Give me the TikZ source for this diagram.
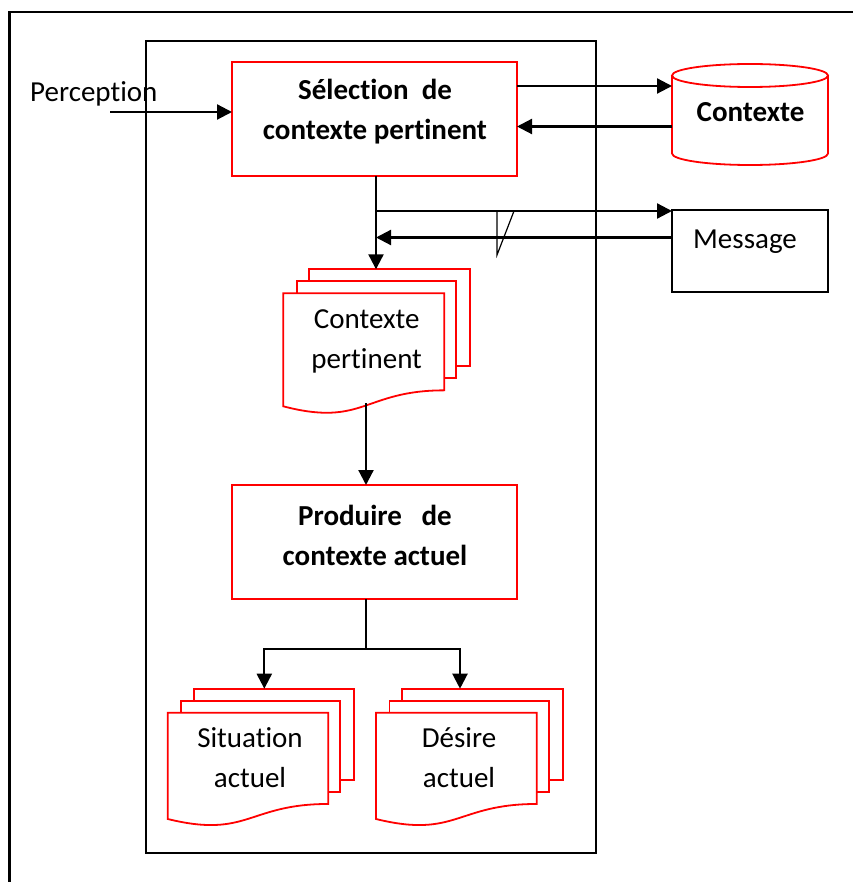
\documentclass[tikz,border=0pt]{standalone}
\usepackage{fontspec}
\setmainfont{Carlito}[Ligatures={NoCommon}]
\usetikzlibrary{arrows.meta,calc}

\tikzset{
  frameline/.style={draw=black, line width=2.2pt},
  procbox/.style={draw=red, line width=2pt, minimum width=285pt, minimum height=114pt,
    inner sep=0pt, outer sep=0pt},
  msgbox/.style={draw=black, line width=1.6pt, minimum width=156pt, minimum height=82pt,
    inner sep=0pt, outer sep=0pt},
  spot/.style={inner sep=0pt, outer sep=0pt, minimum width=#1},
  sheet/.style={draw=red, line width=1.8pt, line join=miter},
  db/.style={draw=red, line width=1.8pt},
  flow/.style={draw=black, line width=2.2pt, -{Triangle[length=15pt,width=15pt]}},
  plain/.style={draw=black, line width=2.2pt},
  tick/.style={draw=black, line width=1.2pt},
  txt/.style={font=\fontsize{29}{40}\selectfont, align=center, inner sep=0pt},
  btxt/.style={font=\fontsize{29}{40}\selectfont\bfseries, align=center, inner sep=0pt},
}

% stack of three document sheets; #1 name, #2 left, #3 top, #4 width, #5 height of the front sheet
\newcommand\docstack[5]{%
  \draw[sheet] ({#2+26},{#3-12}) -- ({#2+26},{#3-24}) -- ({#2+#4+26},{#3-24})
    -- ({#2+#4+26},{#3+0.802*#5-24}) -- ({#2+#4+12},{#3+0.802*#5-24});
  \draw[sheet] ({#2+13.5},{#3}) -- ({#2+13.5},{#3-12}) -- ({#2+#4+12},{#3-12})
    -- ({#2+#4+12},{#3+0.802*#5-12}) -- ({#2+#4},{#3+0.802*#5-12});
  \draw[sheet] (#2,#3) -- ({#2+#4},#3) -- ({#2+#4},{#3+0.802*#5})
    .. controls ({#2+0.5*#4},{#3+0.802*#5}) and ({#2+0.5*#4},{#3+1.1075*#5}) .. (#2,{#3+0.934*#5})
    -- cycle;
  \coordinate (#1) at (#2,#3);
  \coordinate (#1-top) at ({#2+26},{#3-24});
}

\begin{document}
\begin{tikzpicture}[x=1pt,y=-1pt]
\useasboundingbox (0,0) rectangle (853,882);

% page frame (left and top edges)
\draw[frameline] (9.5,882) -- (9.5,12) -- (853,12);

% agent boundary
\node[frameline, minimum width=450pt, minimum height=812pt, inner sep=0pt, outer sep=0pt,
  anchor=north west] (agent) at (146,41) {};

% process boxes
\node[procbox] (sel) at (374.5,119) {};
\node[btxt] (selt) at (375,112) {S\'election\ \ de\\contexte pertinent};

\node[procbox] (prod) at (374.5,542) {};
\node[btxt] (prodt) at (375,535) {Produire\ \ \ de\\contexte actuel};

% context store (cylinder)
\node[spot=156pt, minimum height=101pt, anchor=north west] (ctx) at (672,64) {};
\draw[db] (672,75.5) -- (672,153.5)
  .. controls (672,159.85) and (706.9,165) .. (750,165)
  .. controls (793.1,165) and (828,159.85) .. (828,153.5) -- (828,75.5);
\draw[db] (750,75.5) ellipse (78 and 11.5);
\node[btxt] (ctxt) at (750.5,112) {Contexte};

% message box
\node[msgbox, anchor=north west] (msg) at (672,210) {};
\node[txt, anchor=base] (msgt) at (745,249) {Message};

% document stacks
\docstack{cp}{283.3}{293.3}{161}{121}
\node[txt] (cpt) at (366.7,341) {Contexte\\pertinent};

\docstack{sit}{167.7}{712.7}{160.6}{113.8}
\node[txt] (sitt) at (250,758) {Situation\\actuel};

\docstack{des}{376}{712.7}{160.7}{113.8}
\node[txt] (dest) at (459,758) {D\'esire\\actuel};

% perception input
\node[txt, anchor=base west] (perc) at (30,101.7) {Perception};
\coordinate (pin) at (110,112);
\draw[flow] (pin) -- (pin -| sel.west);

% exchanges with the context store
\coordinate (s1) at ($(sel.east)+(0,-33)$);
\draw[flow] (s1) -- (s1 -| ctx.west);
\coordinate (s2) at ($(ctx.west)+(0,12)$);
\draw[flow] (s2) -- (s2 -| sel.east);

% trunk towards relevant context, with message exchange
\coordinate (j1) at (376,211);
\draw[flow] (sel.south -| j1) -- (j1 |- cp-top);
\draw[flow] (j1) -- (j1 -| msg.west);
\coordinate (m2) at ($(msg.north west)+(0,27.5)$);
\draw[flow] (m2) -- (m2 -| j1);
\draw[tick] (497,211) -- (497,255) -- (514,211);

% relevant context to production
\coordinate (cpb) at (366,403);
\draw[flow] (cpb) -- (cpb |- prod.north);

% split to current situation and current desire
\coordinate (j2) at (366,649);
\draw[plain] (j2 |- prod.south) -- (j2);
\coordinate (sitin) at (264.3,0);
\coordinate (desin) at (460,0);
\draw[flow] (j2) -| (sitin |- sit-top);
\draw[flow] (j2) -| (desin |- des-top);
\end{tikzpicture}
\end{document}
